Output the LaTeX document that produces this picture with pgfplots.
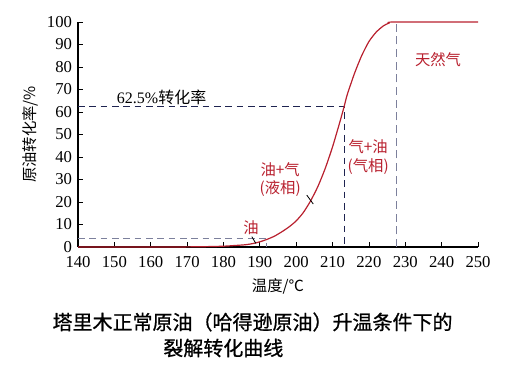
\documentclass[border=0pt]{standalone}
\usepackage{pgfplots}
\pgfplotsset{compat=1.18}
\usepackage{fontspec}
\setmainfont{Liberation Serif}
\newfontfamily\cjk{Noto Sans CJK SC}
\newfontfamily\cjkb[FakeBold=0.8]{Noto Sans CJK SC}
\definecolor{curvered}{HTML}{B8202E}
\definecolor{navy}{HTML}{1E2350}
\definecolor{grayblue}{HTML}{7C809C}
\begin{document}
\begin{tikzpicture}
\path[use as bounding box] (-58.5pt,-95.25pt) rectangle (323.25pt,185.25pt);
\begin{axis}[at={(0,0)}, anchor=south west, scale only axis,
  width=300pt, height=168.75pt,
  xmin=140, xmax=250, ymin=0, ymax=100,
  axis lines=left, axis line style={-, line width=0.8pt},
  xtick={140,150,...,250}, ytick={0,10,...,100},
  tick align=inside, major tick length=4pt,
  tick style={black, line width=0.6pt},
  ticklabel style={font=\fontsize{12.5}{12.5}\selectfont},
  xticklabel style={yshift=-3.5pt},
  yticklabel style={xshift=-1pt},
  /pgf/number format/assume math mode=true,
  xlabel={\cjk\fontsize{11.5}{12}\selectfont 温度/℃},
  ylabel={\cjk\fontsize{11.5}{12}\selectfont 原油转化率/\%},
  xlabel style={at={(axis description cs:0.5,-0.173)}, anchor=center},
  ylabel style={at={(axis description cs:-0.12,0.5)}, anchor=center},
  clip=false]
\addplot[navy, line width=0.7pt, dash pattern=on 5pt off 3.5pt] coordinates {(140,62.5) (213.2,62.5) (213.2,0)};
\addplot[grayblue, line width=0.9pt, dash pattern=on 6pt off 3.5pt] coordinates {(227.5,0) (227.5,100)};
\addplot[grayblue, line width=0.9pt, dash pattern=on 5pt off 3.5pt] coordinates {(140,3.6) (191.9,3.6) (191.9,0)};
\addplot[curvered, line width=0.9pt, smooth, tension=0.4] coordinates {
(140,0) (160,0) (166,0) (170,0.05) (175,0.15) (180,0.35) (183,0.65) (186,1.0)
(188,1.5) (190,2.3) (192,3.4) (194,4.8) (196,6.7) (198,8.9) (200,11.6)
(202,15.4) (204,20.6) (206,27) (208,35) (210,44.5) (212,55.5) (213.2,62.5)
(214,67.5) (216,77) (218,85) (220,91.3) (222,95.5) (224,98.3) (225.5,99.5)
(227,100) (250,100)};
\addplot[black, line width=0.6pt] coordinates {(202.9,23.1) (204.7,19.1)};
\addplot[black, line width=0.6pt] coordinates {(187.8,4.6) (188.9,1.6)};
\node[font=\fontsize{12}{12}\selectfont] at (axis cs:163,66.7) {62.5\%{\cjk 转化率}};
\node[curvered, font=\cjk\fontsize{11.5}{12}\selectfont] at (axis cs:239,83.1) {天然气};
\node[curvered, font=\cjk\fontsize{11.5}{12}\selectfont] at (axis cs:219.8,44.4) {气+油};
\node[curvered, font=\cjk\fontsize{11.5}{12}\selectfont] at (axis cs:219.8,35.6) {(气相)};
\node[curvered, font=\cjk\fontsize{11.5}{12}\selectfont] at (axis cs:195.6,34.2) {油+气};
\node[curvered, font=\cjk\fontsize{11.5}{12}\selectfont] at (axis cs:195.6,26.2) {(液相)};
\node[curvered, font=\cjk\fontsize{11.5}{12}\selectfont] at (axis cs:187.6,8.4) {油};
\end{axis}
\node[font=\cjkb\fontsize{15}{15}\selectfont] at (130.9pt,-56.25pt) {塔里木正常原油（哈得逊原油）升温条件下的};
\node[font=\cjkb\fontsize{15}{15}\selectfont] at (109pt,-75.75pt) {裂解转化曲线};
\end{tikzpicture}
\end{document}
